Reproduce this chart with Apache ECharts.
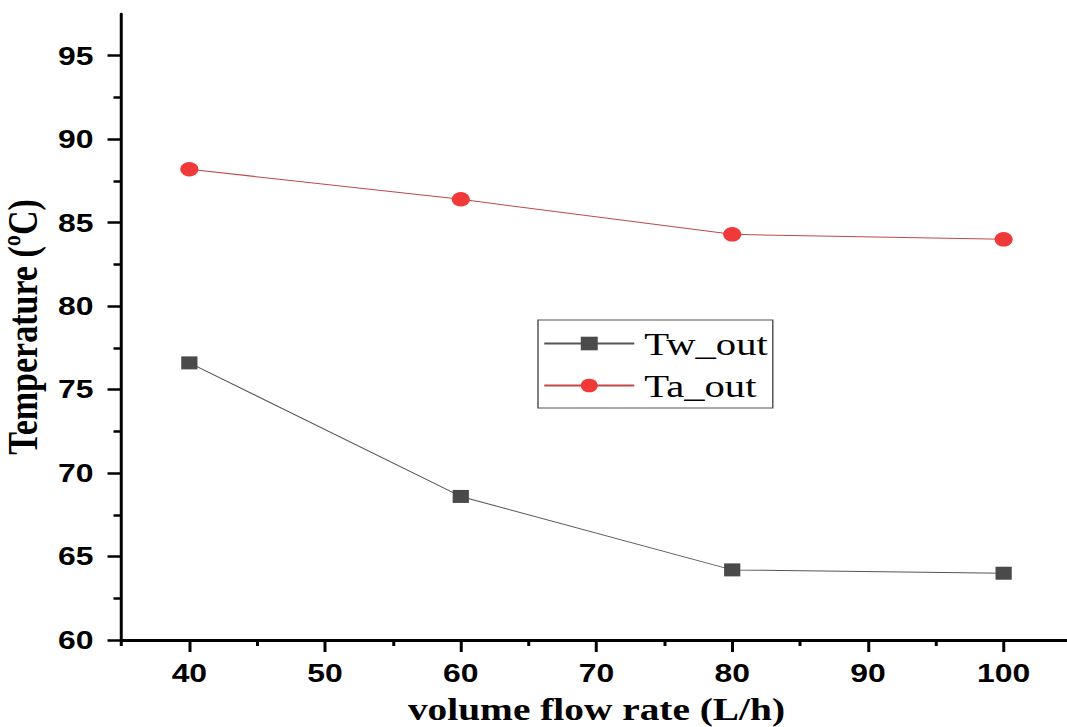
<!DOCTYPE html>
<html>
<head>
<meta charset="utf-8">
<script src="https://cdn.jsdelivr.net/npm/echarts@6/dist/echarts.min.js"></script>
<style>
  html, body { margin: 0; padding: 0; background: #fff; overflow: hidden; }
  /* the plot is laid out narrower and stretched horizontally */
  #chart { width: 853.6px; height: 727px; transform: scaleX(1.25); transform-origin: 0 0; }
</style>
</head>
<body>
<div id="chart"></div>
<script>
const flowRates = [40, 60, 80, 100];
const twOut = [76.6, 68.6, 64.2, 64.0];
const taOut = [88.2, 86.4, 84.3, 84.0];

const xMajorTicks = [40, 50, 60, 70, 80, 90, 100];
const xMinorTicks = [35, 45, 55, 65, 75, 85, 95, 105];
const yMajorTicks = [60, 65, 70, 75, 80, 85, 90, 95];
const yMinorTicks = [62.5, 67.5, 72.5, 77.5, 82.5, 87.5, 92.5];

const toPairs = (xs, ys) => xs.map((x, i) => [x, ys[i]]);

const sansBold = { fontFamily: 'Liberation Sans, Arial, sans-serif', fontWeight: 'bold', fontSize: 25.5, color: '#000' };
const serifBold = { fontFamily: 'Liberation Serif, Times New Roman, serif', fontWeight: 'bold', color: '#000' };

const chart = echarts.init(document.getElementById('chart'), null, { renderer: 'svg' });
chart.setOption({
  animation: false,
  backgroundColor: '#fff',
  grid: { left: 97.2, top: 14, width: 760, height: 626, containLabel: false, outerBoundsMode: 'none' },
  legend: {
    orient: 'vertical',
    left: 430.4,
    top: 320,
    padding: [7, 4, 6, 4],
    itemGap: 9,
    itemWidth: 72,
    itemHeight: 17,
    borderColor: '#555',
    borderWidth: 1.2,
    textStyle: { fontFamily: 'Liberation Serif, Times New Roman, serif', fontSize: 32.5, lineHeight: 32, color: '#000', padding: [0, 0, 0, 3] },
    data: ['Tw_out', 'Ta_out']
  },
  xAxis: [
    {
      type: 'value', position: 'bottom', min: 35, max: 105, interval: 5,
      name: 'volume flow rate (L/h)', nameLocation: 'middle', nameGap: 53,
      nameTextStyle: Object.assign({}, serifBold, { fontSize: 31.5 }),
      axisLine: { show: true, lineStyle: { color: '#000', width: 3 } },
      axisTick: { show: true, inside: false, length: 6, customValues: xMinorTicks, lineStyle: { color: '#000', width: 2.4 } },
      axisLabel: Object.assign({ customValues: xMajorTicks, margin: 20 }, sansBold),
      splitLine: { show: false }
    },
    {
      type: 'value', position: 'bottom', min: 35, max: 105, interval: 5,
      axisLine: { show: false },
      axisTick: { show: true, inside: false, length: 12, customValues: xMajorTicks, lineStyle: { color: '#000', width: 2.4 } },
      axisLabel: { show: false },
      splitLine: { show: false }
    }
  ],
  yAxis: [
    {
      type: 'value', position: 'left', min: 60, max: 97.5, interval: 2.5,
      name: 'Temperature (ºC)', nameLocation: 'middle', nameGap: 50, nameRotate: 90,
      nameTextStyle: Object.assign({}, serifBold, { fontSize: 34 }),
      axisLine: { show: true, lineStyle: { color: '#000', width: 2.4 } },
      axisTick: { show: true, inside: false, length: 6.4, customValues: yMinorTicks, lineStyle: { color: '#000', width: 2.5 } },
      axisLabel: Object.assign({ customValues: yMajorTicks, margin: 22.5 }, sansBold),
      splitLine: { show: false }
    },
    {
      type: 'value', position: 'left', min: 60, max: 97.5, interval: 2.5,
      axisLine: { show: false },
      axisTick: { show: true, inside: false, length: 11.2, customValues: yMajorTicks, lineStyle: { color: '#000', width: 2.5 } },
      axisLabel: { show: false },
      splitLine: { show: false }
    }
  ],
  series: [
    {
      name: 'Tw_out', type: 'line', xAxisIndex: 0, yAxisIndex: 0,
      data: toPairs(flowRates, twOut),
      symbol: 'rect', symbolSize: 13,
      itemStyle: { color: '#4a4a4a' },
      lineStyle: { color: '#555', width: 1 }
    },
    {
      name: 'Ta_out', type: 'line', xAxisIndex: 0, yAxisIndex: 0,
      data: toPairs(flowRates, taOut),
      symbol: 'circle', symbolSize: 14.5,
      itemStyle: { color: '#f03a3a' },
      lineStyle: { color: '#c04848', width: 1 }
    }
  ]
});
</script>
</body>
</html>
